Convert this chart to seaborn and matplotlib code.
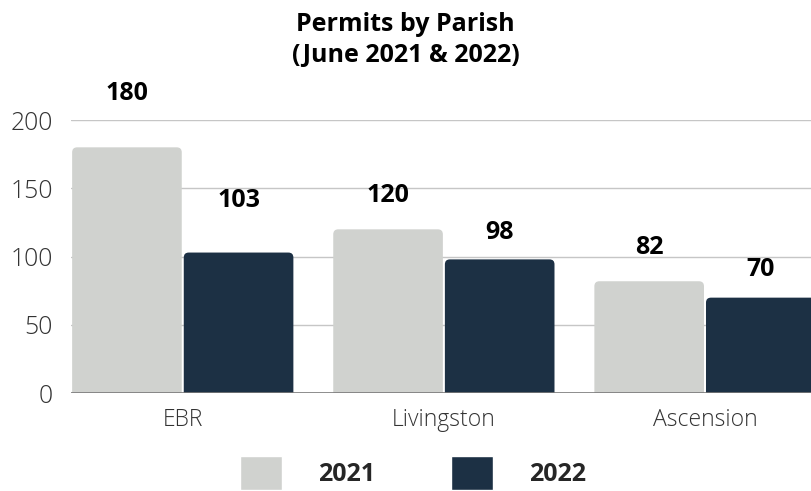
import matplotlib
matplotlib.use("Agg")
import matplotlib.pyplot as plt
from matplotlib.patches import FancyBboxPatch
import seaborn as sns
import pandas as pd

# podatki
parishes = ["EBR", "Livingston", "Ascension"]
years = ["2021", "2022"]
permits_2021 = [180, 120, 82]
permits_2022 = [103, 98, 70]
y_ticks = [0, 50, 100, 150, 200]

df = pd.DataFrame({
    "parish": parishes * 2,
    "year": [years[0]] * 3 + [years[1]] * 3,
    "permits": permits_2021 + permits_2022,
})

colors = {"2021": "#d0d2cf", "2022": "#1c3044"}
# odmik oznak nad stolpci (px), po vrsti 2021 in nato 2022
label_offsets_px = [54, 34, 34, 52, 27, 28]

sns.set_theme(style="white")
plt.rcParams["font.family"] = ["Open Sans", "DejaVu Sans"]

fig = plt.figure(figsize=(8.11, 4.91), dpi=100)
ax = fig.add_axes([71 / 811, (491 - 393.3) / 491, 740 / 811, 273.3 / 491])

sns.barplot(data=df, x="parish", y="permits", hue="year", palette=colors,
            width=0.855, gap=0.018, saturation=1, ax=ax, zorder=2)

ax.set_xlim(-0.428, 2.406)
ax.set_ylim(0, 200)
ax.set_yticks(y_ticks)
ax.set_xlabel("")
ax.set_ylabel("")
for s in ax.spines.values():
    s.set_visible(False)
ax.grid(False)
for t in y_ticks[1:]:
    ax.axhline(t, color="#c6c6c6", lw=1, zorder=1)
ax.axhline(0, color="#7a7a7a", lw=1.2, zorder=4)

ax.tick_params(axis="y", length=0, pad=13, labelsize=17.8, labelcolor="#333333")
ax.tick_params(axis="x", length=0, pad=10.5, labelsize=16.5, labelcolor="#333333")
for lab in ax.get_yticklabels() + ax.get_xticklabels():
    lab.set_fontweight("light")

# legenda
handles, labels = ax.get_legend_handles_labels()
ax.legend(handles, labels, loc="center", bbox_to_anchor=(413 / 811, 1 - 473 / 491),
          bbox_transform=fig.transFigure, ncol=2, frameon=False,
          prop={"weight": "bold", "size": 18}, handlelength=1.68, handleheight=1.68,
          handletextpad=1.45, columnspacing=3.0, borderpad=0, borderaxespad=0)

# zaobljeni stolpci
px_x = 740 / (2.406 + 0.428)
px_y = 273.3 / 200
r_px = 5
rx = r_px / px_x
ry = r_px / px_y
i = 0
for cont in ax.containers:
    for bar in cont:
        x, w, h = bar.get_x(), bar.get_width(), bar.get_height()
        bar.set_visible(False)
        rb = FancyBboxPatch((x, -ry), w, h + ry,
                            boxstyle=f"round,pad=0,rounding_size={rx}",
                            mutation_aspect=ry / rx, facecolor=bar.get_facecolor(),
                            edgecolor="none", zorder=3)
        ax.add_patch(rb)
        ax.annotate(f"{int(h)}", (x + w / 2, h), xytext=(0, label_offsets_px[i] * 0.72),
                    textcoords="offset points", ha="center", va="center",
                    fontsize=18, fontweight="bold", color="#000000",
                    annotation_clip=False)
        i += 1

fig.text(0.5, 1 - 40 / 491, "Permits by Parish\n(June 2021 & 2022)", ha="center",
         va="center", fontsize=18, fontweight="bold", color="#000000", linespacing=1.3)

fig.savefig("out.png", dpi=100)
